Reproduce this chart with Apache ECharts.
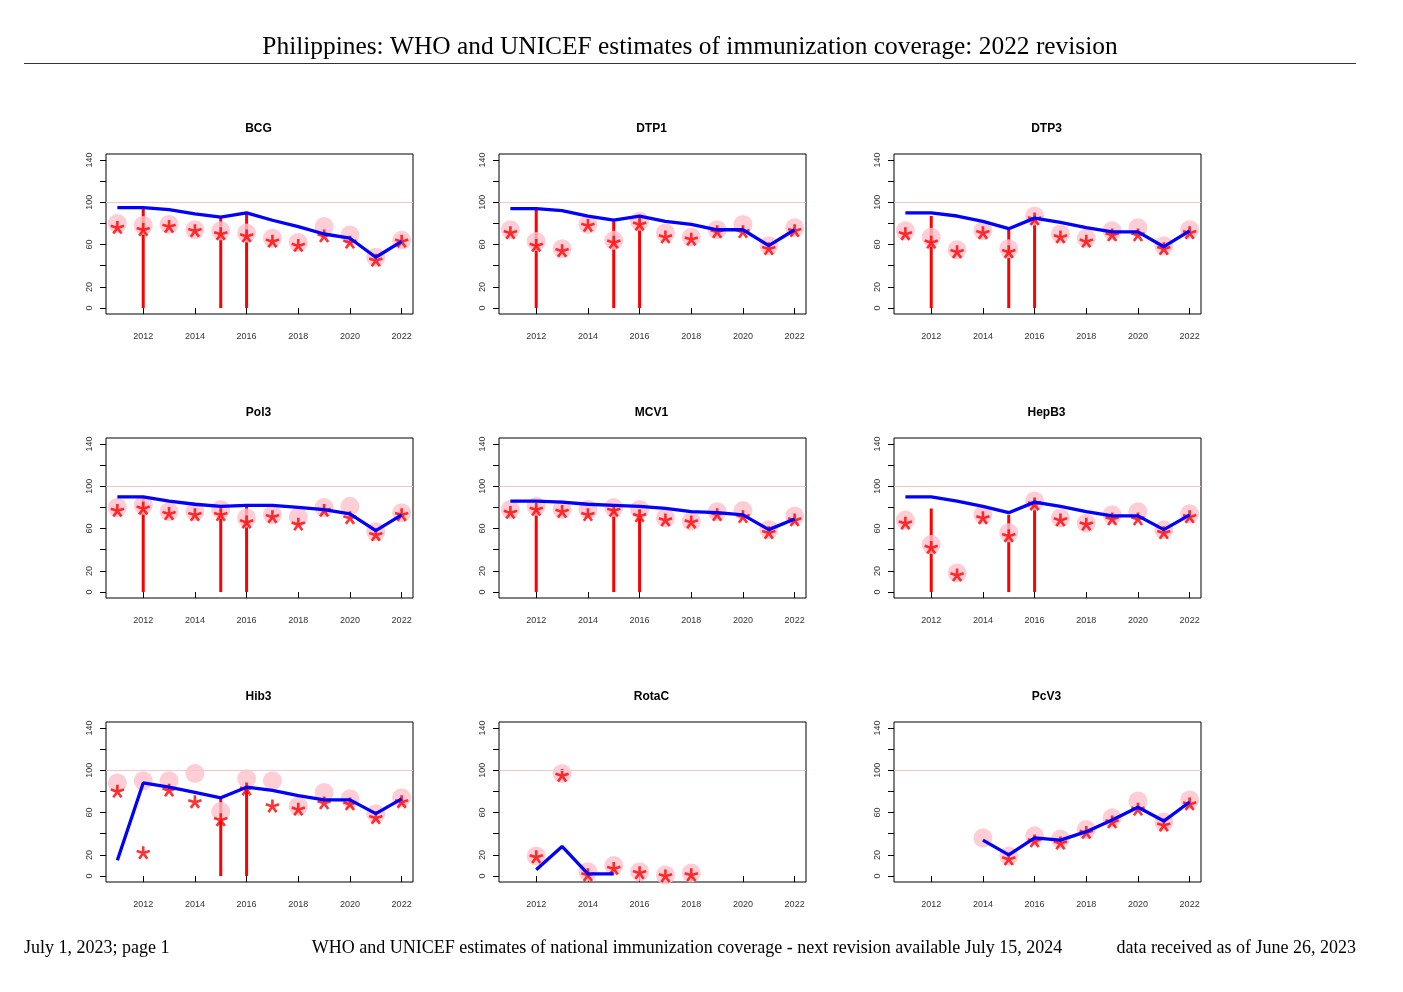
<!DOCTYPE html>
<html>
<head>
<meta charset="utf-8">
<script src="https://cdn.jsdelivr.net/npm/echarts@6/dist/echarts.min.js"></script>
<style>
  html, body { margin: 0; padding: 0; background: #fff; }
  #chart { width: 1403px; height: 992px; }
</style>
</head>
<body>
<div id="chart"></div>
<script>
// years and axis ticks
const years = [2011, 2012, 2013, 2014, 2015, 2016, 2017, 2018, 2019, 2020, 2021, 2022];
const xTicks = [2012, 2014, 2016, 2018, 2020, 2022];
const yTicks = [0, 20, 40, 60, 80, 100, 120, 140];
const yLabels = [0, 20, 60, 100, 140];

// WUENIC estimate (blue), reported (red star), official (pink circle), survey (red bar)
const estBCG = [95, 95, 93, 89, 86, 90, 83, 77, 70, 66, 48, 63];
const repBCG = [76, 74, 77, 73, 70, 68, 63, 59, 68, 62, 45, 63];
const offBCG = [80, 78, 79, 74, 73, 71, 66, 62, 77, 69, 48, 64];
const survBCG = [[2012, 95], [2015, 86], [2016, 90]];

const estDTP1 = [94, 94, 92, 87, 83, 87, 82, 79, 74, 74, 59, 74];
const repDTP1 = [71, 59, 54, 78, 62, 79, 67, 65, 72, 72, 56, 73];
const offDTP1 = [74, 63, 56, 79, 64, 82, 71, 67, 74, 79, 59, 76];
const survDTP1 = [[2012, 94], [2015, 82], [2016, 88]];

const estDTP3 = [90, 90, 87, 82, 75, 85, 81, 76, 72, 72, 58, 73];
const repDTP3 = [70, 62, 53, 71, 53, 84, 67, 63, 69, 69, 56, 71];
const offDTP3 = [73, 67, 55, 73, 56, 87, 70, 66, 73, 76, 59, 74];
const survDTP3 = [[2012, 87], [2015, 74], [2016, 88]];

const estPol3 = [90, 90, 86, 83, 81, 82, 82, 80, 78, 74, 58, 73];
const repPol3 = [77, 79, 74, 73, 73, 66, 71, 64, 77, 70, 54, 73];
const offPol3 = [80, 82, 76, 76, 78, 70, 73, 71, 80, 81, 57, 75];
const survPol3 = [[2012, 89], [2015, 81], [2016, 82]];

const estMCV1 = [86, 86, 85, 83, 82, 81, 79, 76, 75, 73, 59, 69];
const repMCV1 = [75, 78, 76, 73, 77, 72, 68, 66, 73, 71, 56, 68];
const offMCV1 = [78, 81, 78, 78, 80, 78, 70, 67, 76, 77, 59, 72];
const survMCV1 = [[2012, 81], [2015, 80], [2016, 78]];

const estHepB3 = [90, 90, 86, 81, 75, 85, 81, 76, 72, 72, 59, 73];
const repHepB3 = [65, 42, 16, 70, 53, 83, 68, 64, 69, 69, 56, 71];
const offHepB3 = [68, 45, 18, 73, 56, 86, 70, 65, 73, 76, 59, 74];
const survHepB3 = [[2012, 79], [2015, 73], [2016, 89]];

const estHib3 = [15, 88, 84, 79, 74, 84, 81, 76, 72, 72, 59, 73];
const repHib3 = [80, 22, 81, 70, 53, 82, 66, 63, 69, 68, 55, 70];
const offHib3 = [88, 90, 90, 97, 61, 92, 90, 66, 79, 73, 59, 74];
const survHib3 = [[2015, 74], [2016, 89]];

const estRotaC = [null, 6, 28, 2, 2, null, null, null, null, null, null, null];
const repRotaC = [null, 18, 95, 1, 7, 3, 0, 1, null, null, null, null];
const offRotaC = [null, 19, 97, 4, 10, 4, 1, 3, null, null, null, null];
const survRotaC = [];

const estPcV3 = [null, null, null, 34, 20, 36, 34, 42, 53, 65, 52, 70];
const repPcV3 = [null, null, null, null, 16, 33, 31, 41, 51, 63, 48, 68];
const offPcV3 = [null, null, null, 36, 19, 38, 35, 44, 55, 71, 51, 72];
const survPcV3 = [];

const panels = [
  { name: 'BCG', est: estBCG, rep: repBCG, off: offBCG, surv: survBCG },
  { name: 'DTP1', est: estDTP1, rep: repDTP1, off: offDTP1, surv: survDTP1 },
  { name: 'DTP3', est: estDTP3, rep: repDTP3, off: offDTP3, surv: survDTP3 },
  { name: 'Pol3', est: estPol3, rep: repPol3, off: offPol3, surv: survPol3 },
  { name: 'MCV1', est: estMCV1, rep: repMCV1, off: offMCV1, surv: survMCV1 },
  { name: 'HepB3', est: estHepB3, rep: repHepB3, off: offHepB3, surv: survHepB3 },
  { name: 'Hib3', est: estHib3, rep: repHib3, off: offHib3, surv: survHib3 },
  { name: 'RotaC', est: estRotaC, rep: repRotaC, off: offRotaC, surv: survRotaC },
  { name: 'PcV3', est: estPcV3, rep: repPcV3, off: offPcV3, surv: survPcV3 }
];

// layout of the 3x3 grid
const colLeft = [106, 499, 894];
const rowTop = [154, 438, 722];
const W = 307, H = 160;

// five-armed asterisk like R's "*"
function asteriskPath() {
  const hw = 0.19;
  let d = '';
  for (let k = 0; k < 5; k++) {
    const a = (-90 + k * 72) * Math.PI / 180;
    const dx = Math.cos(a), dy = Math.sin(a);
    const px = -dy * hw, py = dx * hw;
    const pts = [[px, py], [dx + px, dy + py], [dx - px, dy - py], [-px, -py]];
    d += pts.map((p, i) => (i ? 'L' : 'M') + (50 + p[0] * 50).toFixed(2) + ' ' + (50 + p[1] * 50).toFixed(2)).join(' ') + ' Z ';
  }
  return 'path://' + d;
}
const starSymbol = asteriskPath();

const pairs = arr => years.map((y, i) => [y, arr[i]]).filter(p => p[1] != null);

const grids = [], xAxes = [], yAxes = [], series = [], graphics = [];
const axisFont = { fontFamily: 'Liberation Sans', fontSize: 9, color: '#333' };

panels.forEach((p, i) => {
  const left = colLeft[i % 3], top = rowTop[Math.floor(i / 3)];
  grids.push({ left: left, top: top, width: W, height: H, show: true, borderColor: '#000', borderWidth: 1, backgroundColor: 'transparent' });
  xAxes.push({
    gridIndex: i, type: 'value', min: 2010.56, max: 2022.44,
    axisLine: { show: false }, splitLine: { show: false },
    axisTick: { show: true, length: 6, customValues: xTicks, lineStyle: { color: '#000' } },
    axisLabel: Object.assign({ margin: 18, customValues: xTicks, formatter: v => String(v) }, axisFont)
  });
  yAxes.push({
    gridIndex: i, type: 'value', min: -5.6, max: 145.6,
    axisLine: { show: false }, splitLine: { show: false },
    axisTick: { show: true, length: 6, customValues: yTicks, lineStyle: { color: '#000' } },
    axisLabel: Object.assign({ margin: 12, rotate: 90, customValues: yLabels }, axisFont)
  });
  series.push({
    type: 'scatter', xAxisIndex: i, yAxisIndex: i, silent: true,
    symbol: 'circle', symbolSize: 19, itemStyle: { color: '#ffc0cb' },
    data: pairs(p.off),
    markLine: {
      silent: true, symbol: 'none', label: { show: false },
      lineStyle: { color: '#f2c4cc', width: 1, type: 'solid' },
      data: [{ yAxis: 100 }]
    }
  });
  series.push({
    type: 'custom', xAxisIndex: i, yAxisIndex: i, silent: true,
    encode: { x: 0, y: 1 },
    data: p.surv,
    renderItem: (params, api) => {
      const t = api.coord([api.value(0), api.value(1)]);
      const b = api.coord([api.value(0), 0]);
      return { type: 'line', shape: { x1: t[0], y1: t[1], x2: b[0], y2: b[1] }, style: { stroke: '#ff0000', lineWidth: 3 } };
    }
  });
  series.push({
    type: 'line', xAxisIndex: i, yAxisIndex: i, silent: true,
    showSymbol: false, symbol: 'none',
    lineStyle: { color: '#0000ff', width: 3.3 },
    data: pairs(p.est)
  });
  series.push({
    type: 'scatter', xAxisIndex: i, yAxisIndex: i, silent: true,
    symbol: starSymbol, symbolSize: 14, symbolKeepAspect: true,
    itemStyle: { color: '#ff0000' },
    data: pairs(p.rep)
  });
  graphics.push({
    type: 'text', x: left + W / 2 - 1, y: top - 25,
    style: { text: p.name, font: 'bold 12px "Liberation Sans"', fill: '#000', textAlign: 'center', textVerticalAlign: 'middle' }
  });
});

const serif = '"Liberation Serif", "DejaVu Serif", serif';
graphics.push(
  { type: 'text', x: 690, y: 47, style: { text: 'Philippines: WHO and UNICEF estimates of immunization coverage: 2022 revision', font: '25.4px ' + serif, fill: '#000', textAlign: 'center', textVerticalAlign: 'middle' } },
  { type: 'line', shape: { x1: 24, y1: 63.5, x2: 1356, y2: 63.5 }, style: { stroke: '#333', lineWidth: 1 } },
  { type: 'text', x: 24, y: 948, style: { text: 'July 1, 2023; page 1', font: '18px ' + serif, fill: '#000', textAlign: 'left', textVerticalAlign: 'middle' } },
  { type: 'text', x: 687, y: 948, style: { text: 'WHO and UNICEF estimates of national immunization coverage - next revision available July 15, 2024', font: '18px ' + serif, fill: '#000', textAlign: 'center', textVerticalAlign: 'middle' } },
  { type: 'text', x: 1356, y: 948, style: { text: 'data received as of June 26, 2023', font: '18px ' + serif, fill: '#000', textAlign: 'right', textVerticalAlign: 'middle' } }
);

const chart = echarts.init(document.getElementById('chart'), null, { renderer: 'canvas' });
chart.setOption({
  animation: false,
  backgroundColor: '#fff',
  grid: grids,
  xAxis: xAxes,
  yAxis: yAxes,
  series: series,
  graphic: graphics
});
</script>
</body>
</html>
